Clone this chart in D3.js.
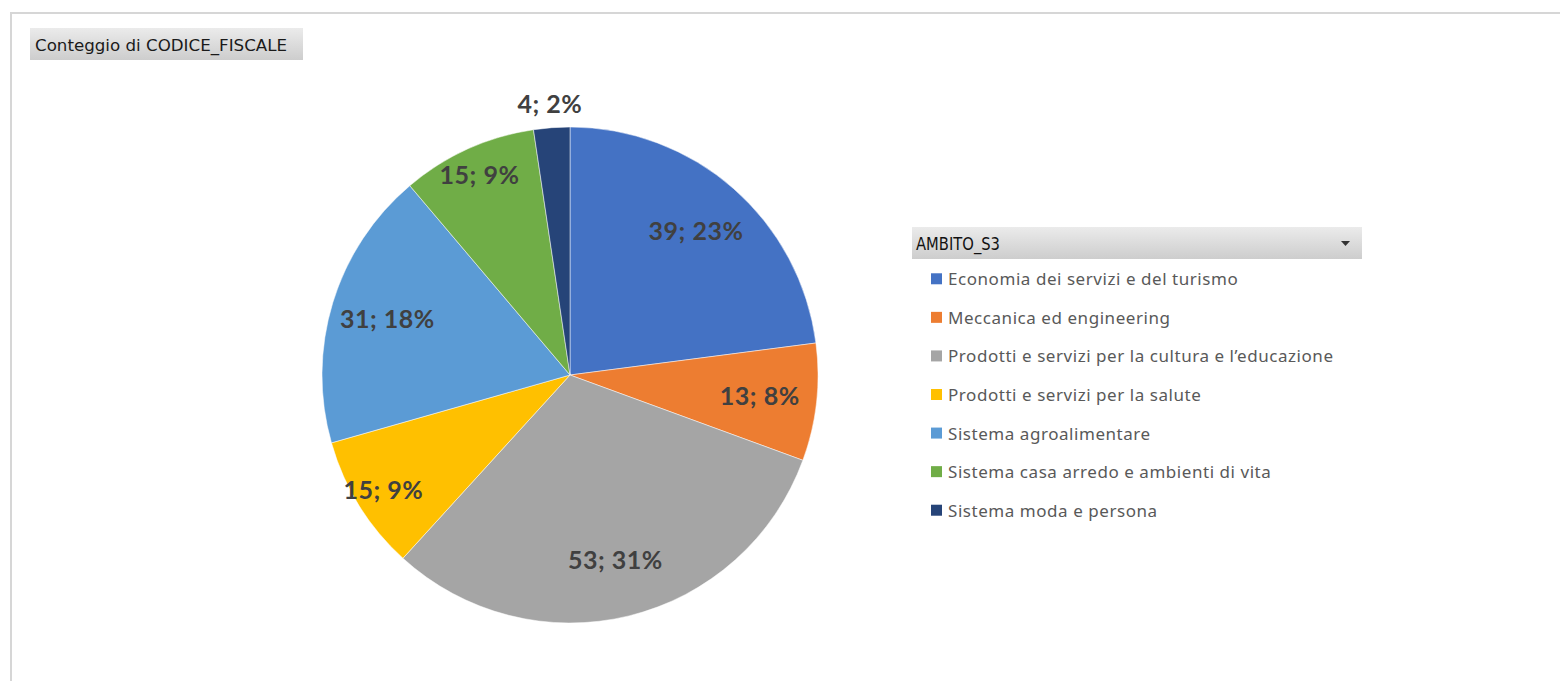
<!DOCTYPE html>
<html>
<head>
<meta charset="utf-8">
<script src="https://cdn.jsdelivr.net/npm/d3@7"></script>
<style>
  body { margin: 0; background: #fff; }
  svg { display: block; }
</style>
</head>
<body>
<script>
var categories = [
  "Economia dei servizi e del turismo",
  "Meccanica ed engineering",
  "Prodotti e servizi per la cultura e l\u2019educazione",
  "Prodotti e servizi per la salute",
  "Sistema agroalimentare",
  "Sistema casa arredo e ambienti di vita",
  "Sistema moda e persona"
];
var counts = [39, 13, 53, 15, 31, 15, 4];
var colors = ["#4472C4", "#ED7D31", "#A5A5A5", "#FFC000", "#5B9BD5", "#70AD47", "#264478"];
var fieldName = "Conteggio di CODICE_FISCALE";
var legendTitle = "AMBITO_S3";

var width = 1560, height = 681;
var cx = 570, cy = 375, radius = 248;

var svg = d3.select("body").append("svg").attr("width", width).attr("height", height);

var defs = svg.append("defs");
var grad = defs.append("linearGradient").attr("id", "btn").attr("x1", 0).attr("y1", 0).attr("x2", 0).attr("y2", 1);
grad.append("stop").attr("offset", "0%").attr("stop-color", "#ebebeb");
grad.append("stop").attr("offset", "100%").attr("stop-color", "#cdcdcd");

// outer frame of the pivot chart
svg.append("path")
   .attr("d", "M11," + height + " V13 H" + width)
   .attr("fill", "none")
   .attr("stroke", "#d6d6d6")
   .attr("stroke-width", 2);

// field button
svg.append("rect").attr("x", 30).attr("y", 28).attr("width", 273).attr("height", 32).attr("fill", "url(#btn)");
svg.append("text").attr("x", 35).attr("y", 51)
   .style("font-family", "'DejaVu Sans', sans-serif").style("font-size", "16px")
   .attr("textLength", 252).attr("lengthAdjust", "spacingAndGlyphs")
   .attr("fill", "#1a1a1a").text(fieldName);

var total = d3.sum(counts);
var pie = d3.pie().sort(null).value(function (d) { return d; });
var arcs = pie(counts);
var arc = d3.arc().innerRadius(0).outerRadius(radius);

var g = svg.append("g").attr("transform", "translate(" + cx + "," + cy + ")");

g.selectAll("path.slice")
 .data(arcs)
 .enter()
 .append("path")
 .attr("class", "slice")
 .attr("d", arc)
 .attr("fill", function (d, i) { return colors[i]; })
 .attr("stroke", "#fff")
 .attr("stroke-width", 0.5);

// best-fit like label radius
function labelRadius(d) {
  var frac = d.value / total;
  var mid = (d.startAngle + d.endAngle) / 2;
  if (frac < 0.03) return radius + 24;
  if (frac < 0.1 && Math.abs(Math.sin(mid)) < 0.95) return radius * 0.885;
  return radius * 0.77;
}

g.selectAll("text.lbl")
 .data(arcs)
 .enter()
 .append("text")
 .attr("class", "lbl")
 .attr("x", function (d) { var m = (d.startAngle + d.endAngle) / 2; return labelRadius(d) * Math.sin(m); })
 .attr("y", function (d) { var m = (d.startAngle + d.endAngle) / 2; return -labelRadius(d) * Math.cos(m); })
 .attr("dy", "0.35em")
 .attr("text-anchor", "middle")
 .style("font-family", "Lato, 'Noto Sans', sans-serif")
 .style("font-weight", "bold")
 .style("font-size", "25px")
 .style("letter-spacing", "0.5px")
 .attr("fill", "#404040")
 .text(function (d) { return d.value + "; " + Math.round(d.value / total * 100) + "%"; });

// legend
var lx = 912, ly = 227;
svg.append("rect").attr("x", lx).attr("y", ly).attr("width", 450).attr("height", 32).attr("fill", "url(#btn)");
svg.append("text").attr("x", lx + 4).attr("y", ly + 23)
   .style("font-family", "'DejaVu Sans', sans-serif").style("font-size", "17px")
   .attr("textLength", 84).attr("lengthAdjust", "spacingAndGlyphs")
   .attr("fill", "#111").text(legendTitle);
svg.append("path").attr("d", "M1341,241 h9 l-4.5,5 z").attr("fill", "#333");

var y = d3.scaleBand().domain(categories).range([260, 530]).padding(0);

var item = svg.selectAll("g.item")
  .data(categories)
  .enter()
  .append("g")
  .attr("class", "item")
  .attr("transform", function (d) { return "translate(931," + (y(d) + y.bandwidth() / 2) + ")"; });

item.append("rect").attr("x", 0).attr("y", -6).attr("width", 11).attr("height", 11)
    .attr("fill", function (d, i) { return colors[i]; });
item.append("text").attr("x", 17).attr("y", 0).attr("dy", "0.35em")
    .style("font-family", "'Noto Sans', sans-serif").style("font-size", "17px")
    .style("letter-spacing", "0.55px")
    .attr("fill", "#595959")
    .text(function (d) { return d; });
</script>
</body>
</html>
